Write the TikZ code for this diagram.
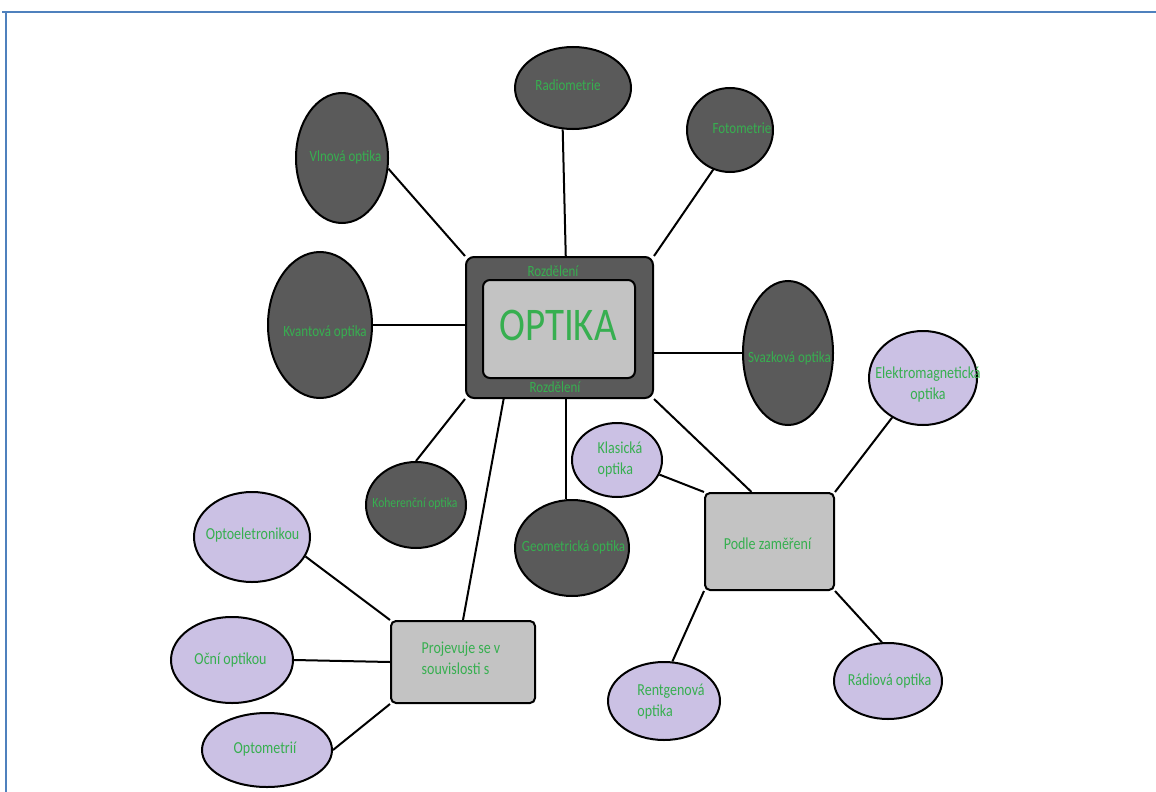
\documentclass[tikz,border=0pt]{standalone}
\usepackage{fontspec}
\setmainfont{Carlito}
\usetikzlibrary{shapes.geometric}
\definecolor{dkfill}{RGB}{90,90,90}
\definecolor{ltfill}{RGB}{195,195,195}
\definecolor{lilac}{RGB}{203,193,228}
\definecolor{txtgreen}{RGB}{55,175,80}
\definecolor{frameblue}{RGB}{79,129,189}
% labels in this chart are set slightly tall
\newcommand\tallt[1]{\scalebox{1}[1.2]{#1}}
\newcommand\twol[2]{\tallt{\begin{tabular}{@{}l@{}}#1\\#2\end{tabular}}}
\newcommand\twoc[2]{\tallt{\begin{tabular}{@{}c@{}}#1\\#2\end{tabular}}}
\tikzset{
  dk/.style={ellipse, draw=black, line width=2pt, fill=dkfill, inner sep=0pt},
  lil/.style={ellipse, draw=black, line width=2pt, fill=lilac, inner sep=0pt},
  gbox/.style={rectangle, rounded corners=5pt, draw=black, line width=2pt, fill=ltfill, inner sep=0pt},
  lbl/.style={text=txtgreen, inner sep=0pt, font=\fontsize{13}{16}\selectfont},
  lblb/.style={text=txtgreen, inner sep=0pt, font=\fontsize{14}{17}\selectfont},
  conn/.style={draw=black, line width=2pt},
  frameline/.style={draw=frameblue, line width=2.5pt}
}
\begin{document}
\begin{tikzpicture}[x=1pt,y=-1pt]
\useasboundingbox (0,0) rectangle (1156,792);
\draw[frameline] (2,12) -- (1156,12);
\draw[frameline] (6,12) -- (6,792);

% central block
\node[rectangle, rounded corners=8pt, draw=black, line width=2pt, fill=dkfill,
      minimum width=187pt, minimum height=141pt] (out) at (559.5,327.5) {};
\node[gbox, rounded corners=7pt, minimum width=152pt, minimum height=98pt] (inn) at (559,329) {};
\node[text=txtgreen, inner sep=0pt, font=\fontsize{39}{44}\selectfont] (optika) at (558,325) {\tallt{OPTIKA}};
\node[lbl] (rozt) at (553,271) {\tallt{Rozdělení}};
\node[lbl] (rozb) at (555,387) {\tallt{Rozdělení}};

% dark branches
\node[dk, minimum width=116pt, minimum height=82pt] (rad) at (573,88) {};
\node[dk, minimum width=86pt, minimum height=84pt] (fot) at (730,130) {};
\node[dk, minimum width=92pt, minimum height=130pt] (vln) at (342,158) {};
\node[dk, minimum width=104pt, minimum height=146pt] (kva) at (320,325) {};
\node[dk, minimum width=90pt, minimum height=144pt] (sva) at (788,353) {};
\node[dk, minimum width=100pt, minimum height=86pt] (koh) at (416,505) {};
\node[dk, minimum width=114pt, minimum height=96pt] (geo) at (572,548) {};

\node[lbl] (radt) at (568,85) {\tallt{Radiometrie}};
\node[lbl] (fott) at (742,128) {\tallt{Fotometrie}};
\node[lbl] (vlnt) at (345.5,157) {\tallt{Vlnová optika}};
\node[lbl] (kvat) at (325,332) {\tallt{Kvantová optika}};
\node[lbl] (svat) at (789.5,358) {\tallt{Svazková optika}};
\node[lbl, font=\fontsize{11.6}{14}\selectfont] (koht) at (415,504) {\tallt{Koherenční optika}};
\node[lbl] (geot) at (573.5,547) {\tallt{Geometrická optika}};

% grey boxes
\node[gbox, minimum width=129pt, minimum height=97pt] (pod) at (769.5,541.5) {};
\node[gbox, minimum width=144pt, minimum height=82pt] (pro) at (463,662) {};
\node[lblb] (podt) at (767.5,544) {\tallt{Podle zaměření}};
\node[lblb] (prot) at (461,660) {\twol{Projevuje se v}{souvislosti s}};

% lilac leaves
\node[lil, minimum width=90pt, minimum height=74pt] (kla) at (617,460) {};
\node[lil, minimum width=108pt, minimum height=94pt] (ele) at (923,378) {};
\node[lil, minimum width=112pt, minimum height=78pt] (ren) at (664,701) {};
\node[lil, minimum width=108pt, minimum height=76pt] (rdi) at (888,681) {};
\node[lil, minimum width=116pt, minimum height=90pt] (ope) at (252,537) {};
\node[lil, minimum width=122pt, minimum height=86pt] (ocn) at (232,660) {};
\node[lil, minimum width=130pt, minimum height=74pt] (otm) at (267,750) {};

\node[lblb] (klat) at (620,460) {\twol{Klasická}{optika}};
\node[lblb] (elet) at (928,385) {\twoc{Elektromagnetická}{optika}};
\node[lblb] (rent) at (671,702) {\twol{Rentgenová}{optika}};
\node[lblb] (rdit) at (889.5,681) {\tallt{Rádiová optika}};
\node[lblb] (opet) at (252.5,535) {\tallt{Optoeletronikou}};
\node[lblb] (ocnt) at (230.5,660) {\tallt{Oční optikou}};
\node[lblb] (otmt) at (265,749) {\tallt{Optometrií}};

% connectors around the central block
\draw[conn] (rad.-104) -- (out.85);
\draw[conn] (fot.-113) -- (out.north east);
\draw[conn] (vln.-13) -- (out.north west);
\draw[conn] (kva.east) -- (kva.east -| out.west);
\draw[conn] (sva.west) -- (sva.west -| out.east);
\draw[conn] (koh.north) -- (out.south west);
\draw[conn] (geo.97) -- (geo.97 |- out.south);
\draw[conn] (pro.north) -- (out.-128);
\draw[conn] (pod.110) -- (out.south east);
% connectors of the two grey boxes
\draw[conn] (kla.-19) -- (pod.north west);
\draw[conn] (ele.-128) -- (pod.north east);
\draw[conn] (pod.south west) -- (ren.78);
\draw[conn] (pod.south east) -- (rdi.99);
\draw[conn] (ope.-20) -- (pro.north west);
\draw[conn] (ocn.east) -- (pro.west);
\draw[conn] (otm.east) -- (pro.south west);
\end{tikzpicture}
\end{document}
